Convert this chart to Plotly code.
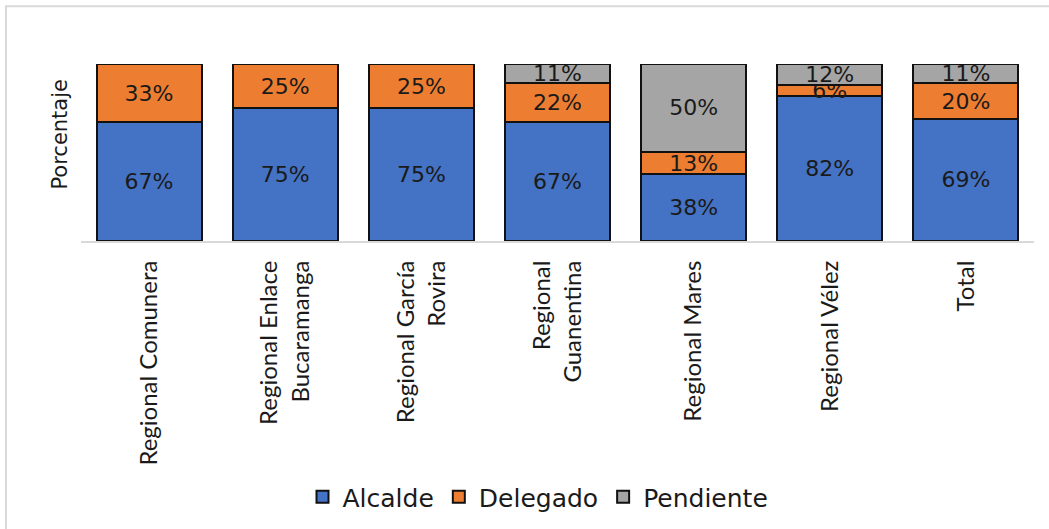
import plotly.graph_objects as go

categories = [
    "Regional Comunera",
    "Regional Enlace<br>Bucaramanga",
    "Regional García<br>Rovira",
    "Regional<br>Guanentina",
    "Regional Mares",
    "Regional Vélez",
    "Total",
]
alcalde = [67, 75, 75, 67, 38, 82, 69]
delegado = [33, 25, 25, 22, 13, 6, 20]
pendiente = [0, 0, 0, 11, 50, 12, 11]

series = [
    ("Alcalde", alcalde, "#4472C4"),
    ("Delegado", delegado, "#ED7D31"),
    ("Pendiente", pendiente, "#A5A5A5"),
]

W, H = 1049, 529
L, R, T, B = 81, 15, 64, 287
pw, ph = W - L - R, H - T - B


def px_x(p):
    return (p - L) / pw


def px_y(p):
    return (H - B - p) / ph


fig = go.Figure()
for name, vals, color in series:
    fig.add_trace(go.Bar(
        name=name,
        x=categories,
        y=vals,
        marker=dict(color=color, line=dict(color="#111111", width=2)),
        text=[f"{v}%" if v > 0 else "" for v in vals],
        textposition="inside",
        insidetextanchor="middle",
        textangle=0,
        constraintext="none",
        textfont=dict(family="DejaVu Sans", size=22, color="#1a1a1a"),
        cliponaxis=False,
        hoverinfo="skip",
    ))

fig.update_layout(
    barmode="stack",
    barnorm="percent",
    bargap=0.229,
    width=W,
    height=H,
    margin=dict(l=L, r=R, t=T, b=B),
    paper_bgcolor="white",
    plot_bgcolor="white",
    showlegend=True,
    legend=dict(
        orientation="h",
        x=px_x(538),
        xanchor="center",
        y=px_y(497),
        yanchor="middle",
        font=dict(family="DejaVu Sans", size=25, color="#1a1a1a"),
        traceorder="normal",
        itemwidth=30,
    ),
    xaxis=dict(
        tickangle=-90,
        tickfont=dict(family="Lato", size=24, color="#1a1a1a"),
        showline=True,
        linecolor="#d9d9d9",
        linewidth=2,
        ticks="",
        showgrid=False,
        ticklabelstandoff=8,
    ),
    yaxis=dict(
        range=[0, 100],
        showticklabels=False,
        showgrid=False,
        zeroline=False,
        showline=False,
        ticks="",
    ),
    shapes=[dict(
        type="rect", xref="paper", yref="paper",
        x0=px_x(6), x1=px_x(1070), y0=px_y(6), y1=px_y(560),
        line=dict(color="#d9d9d9", width=2), fillcolor="rgba(0,0,0,0)",
        layer="below",
    )],
    annotations=[dict(
        text="Porcentaje", xref="paper", yref="paper",
        x=px_x(60), y=px_y(135), xanchor="center", yanchor="middle",
        textangle=-90, showarrow=False,
        font=dict(family="DejaVu Sans", size=21, color="#1a1a1a"),
    )],
)

fig.write_html(
    "out.html",
    config={"displayModeBar": False},
    post_script="document.body.style.margin='0';document.body.style.overflow='hidden';",
)
